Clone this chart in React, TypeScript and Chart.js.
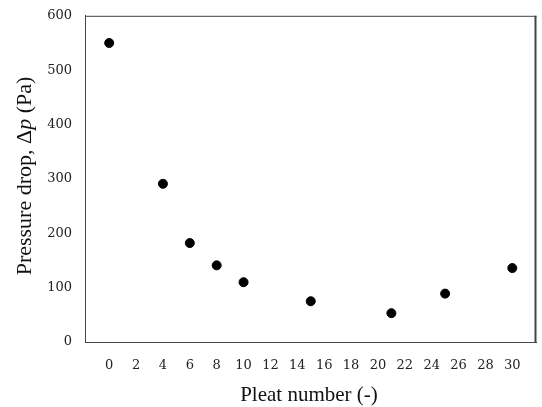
import React, { useEffect, useRef } from "react";
import { Chart, registerables } from "chart.js";

Chart.register(...registerables);

const pleatNumbers = [0, 4, 6, 8, 10, 15, 21, 25, 30];
const pressureDrop = [550, 291, 182, 141, 110, 75, 53, 89, 136];
const xTickValues = [0, 2, 4, 6, 8, 10, 12, 14, 16, 18, 20, 22, 24, 26, 28, 30];
const yTickValues = [0, 100, 200, 300, 400, 500, 600];
const xTitle = "Pleat number (-)";
const yTitleParts = [
  { text: "Pressure drop, Δ", italic: false },
  { text: "p", italic: true },
  { text: " (Pa)", italic: false },
];

const titleFont = '"Liberation Serif", "Times New Roman", serif';

const framePlugin = {
  id: "frameAndTitles",
  afterDraw(chart: any) {
    const { ctx, chartArea } = chart;
    const { left, right, top, bottom } = chartArea;
    ctx.save();
    ctx.strokeStyle = "#444";
    ctx.lineWidth = 1;
    ctx.beginPath();
    ctx.moveTo(left, top + 0.5);
    ctx.lineTo(right, top + 0.5);
    ctx.stroke();
    ctx.lineWidth = 2;
    ctx.beginPath();
    ctx.moveTo(right - 1, top);
    ctx.lineTo(right - 1, bottom);
    ctx.stroke();

    // x title
    ctx.fillStyle = "#111";
    ctx.font = `21px ${titleFont}`;
    ctx.textAlign = "center";
    ctx.textBaseline = "alphabetic";
    ctx.fillText(xTitle, 309, 401);

    // y title with italic p
    ctx.translate(31, 176);
    ctx.rotate(-Math.PI / 2);
    const fonts = yTitleParts.map((p) => `${p.italic ? "italic " : ""}22px ${titleFont}`);
    let total = 0;
    const widths = yTitleParts.map((p, i) => {
      ctx.font = fonts[i];
      const w = ctx.measureText(p.text).width;
      total += w;
      return w;
    });
    let x = -total / 2;
    ctx.textAlign = "left";
    yTitleParts.forEach((p, i) => {
      ctx.font = fonts[i];
      ctx.fillText(p.text, x, 0);
      x += widths[i];
    });
    ctx.restore();
  },
};

export default function App() {
  const ref = useRef<HTMLCanvasElement>(null);
  useEffect(() => {
    document.body.style.margin = "0";
    const chart = new Chart(ref.current!, {
      type: "scatter",
      data: {
        datasets: [
          {
            data: pleatNumbers.map((x, i) => ({ x, y: pressureDrop[i] })),
            backgroundColor: "#000",
            borderColor: "#000",
            pointRadius: 4.5,
            pointHoverRadius: 4.5,
          },
        ],
      },
      options: {
        animation: false,
        responsive: false,
        layout: { padding: { left: 0, top: 12, right: 1, bottom: 0 } },
        plugins: { legend: { display: false }, tooltip: { enabled: false } },
        scales: {
          x: {
            type: "linear",
            min: -1.8,
            max: 31.8,
            afterBuildTicks: (s: any) => {
              s.ticks = xTickValues.map((v) => ({ value: v }));
            },
            afterFit: (s: any) => {
              s.height = 65;
            },
            grid: { display: false, drawTicks: true, tickLength: 5, tickColor: "#444" } as any,
            border: { display: true, color: "#444", width: 1 },
            ticks: {
              color: "#222",
              padding: 11,
              maxRotation: 0,
              autoSkip: false,
              font: { family: '"DejaVu Serif", serif', size: 13 },
            },
          },
          y: {
            type: "linear",
            min: 0,
            max: 600,
            afterBuildTicks: (s: any) => {
              s.ticks = yTickValues.map((v) => ({ value: v }));
            },
            afterFit: (s: any) => {
              s.width = 85;
            },
            grid: { display: false, drawTicks: true, tickLength: 5, tickColor: "#444" } as any,
            border: { display: true, color: "#444", width: 1 },
            ticks: {
              color: "#222",
              padding: 8,
              font: { family: '"DejaVu Serif", serif', size: 13 },
            },
          },
        },
      },
      plugins: [framePlugin],
    });
    return () => chart.destroy();
  }, []);
  return (
    <div style={{ width: 542, height: 407 }}>
      <canvas ref={ref} width={542} height={407} style={{ display: "block" }} />
    </div>
  );
}
